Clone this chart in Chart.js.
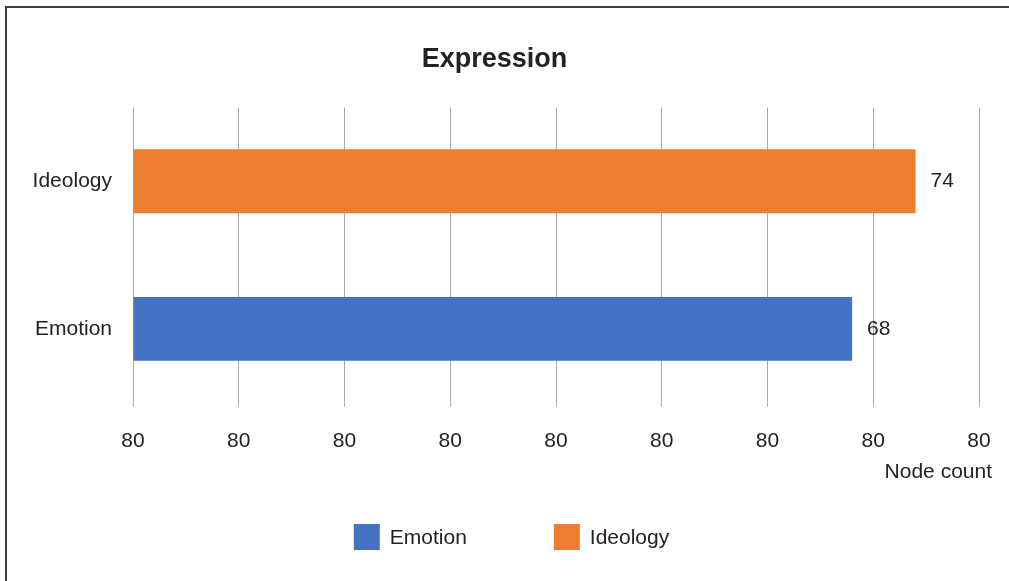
<!DOCTYPE html>
<html>
<head>
<meta charset="utf-8">
<script src="https://cdn.jsdelivr.net/npm/chart.js@4"></script>
<style>
    html, body { margin: 0; padding: 0; background: #fff; }
    #frame {
        position: absolute; left: 5px; top: 6px; width: 1100px; height: 700px;
        border-left: 2px solid #3c3c3c; border-top: 2px solid #3c3c3c;
    }
    #wrap { position: absolute; left: 0; top: 0; width: 1009px; height: 581px; }
</style>
</head>
<body>
<div id="frame"></div>
<div id="wrap"><canvas id="expression-chart" width="1009" height="581"></canvas></div>
<script>
const categories  = ['Ideology', 'Emotion'];
const nodeCounts  = [74, 68];
const barColors   = ['#ED7D31', '#4472C4'];
const xTickLabels = ['80', '80', '80', '80', '80', '80', '80', '80', '80'];
const legendOrder = ['Emotion', 'Ideology'];
const axisTitle   = 'Node count';

const FONT = "'Liberation Sans', Arial, Helvetica, sans-serif";
Chart.defaults.font.family = FONT;
Chart.defaults.font.size = 21;
Chart.defaults.color = '#222';

// value labels at the end of each bar
const valueLabels = {
    id: 'valueLabels',
    afterDatasetsDraw( chart ) {
        const ctx = chart.ctx;
        const meta = chart.getDatasetMeta( 0 );
        ctx.save();
        ctx.font = '21px ' + FONT;
        ctx.fillStyle = '#222';
        ctx.textBaseline = 'middle';
        ctx.textAlign = 'left';
        meta.data.forEach( ( bar, i ) => {
            ctx.fillText( String( nodeCounts[i] ), bar.x + 15, bar.y );
        } );
        ctx.restore();
    }
};

// axis title and legend drawn by hand: the title hangs past the last gridline,
// and the legend items are spread wider than the stock legend allows
const extras = {
    id: 'extras',
    afterDraw( chart ) {
        const ctx = chart.ctx;
        ctx.save();
        ctx.font = '21px ' + FONT;
        ctx.fillStyle = '#222';
        ctx.textBaseline = 'middle';
        ctx.textAlign = 'right';
        ctx.fillText( axisTitle, chart.scales.x.right + 13, 472 );

        ctx.textAlign = 'left';
        const box = 26, gap = 10, spacing = 87;
        const widths = legendOrder.map( t => box + gap + ctx.measureText( t ).width );
        const total = widths.reduce( ( a, b ) => a + b, 0 ) + spacing * ( widths.length - 1 );
        let x = 511.5 - total / 2;
        const y = 524;
        legendOrder.forEach( ( t, i ) => {
            ctx.fillStyle = barColors[categories.indexOf( t )];
            ctx.fillRect( x, y, box, box );
            ctx.fillStyle = '#222';
            ctx.fillText( t, x + box + gap, y + box / 2 + 1 );
            x += widths[i] + spacing;
        } );
        ctx.restore();
    }
};

const ctx = document.getElementById( 'expression-chart' ).getContext( '2d' );
new Chart( ctx, {
    type: 'bar',
    data: {
        labels: categories,
        datasets: [ {
            label: axisTitle,
            data: nodeCounts,
            backgroundColor: barColors,
            borderWidth: 0,
            categoryPercentage: 1,
            barPercentage: 0.432
        } ]
    },
    options: {
        indexAxis: 'y',
        responsive: false,
        animation: false,
        layout: { padding: { left: 10, right: 30, top: 30, bottom: 105 } },
        plugins: {
            legend: { display: false },
            tooltip: { enabled: false },
            title: {
                display: true,
                text: 'Expression',
                color: '#222',
                font: { size: 27, weight: 'bold' },
                padding: { top: 13, bottom: 32 }
            }
        },
        scales: {
            x: {
                min: 0,
                max: 80,
                ticks: {
                    stepSize: 10,
                    padding: 22,
                    maxRotation: 0,
                    callback: ( v, i ) => xTickLabels[i]
                },
                grid: { color: '#aaaaaa', lineWidth: 1, tickLength: 4 },
                border: { display: false },
                afterFit: s => { s.paddingLeft = 0; s.paddingRight = 0; }
            },
            y: {
                grid: { display: false },
                border: { display: false },
                ticks: { padding: 13 },
                afterFit: s => { s.width = 123; }
            }
        }
    },
    plugins: [ valueLabels, extras ]
} );
</script>
</body>
</html>
